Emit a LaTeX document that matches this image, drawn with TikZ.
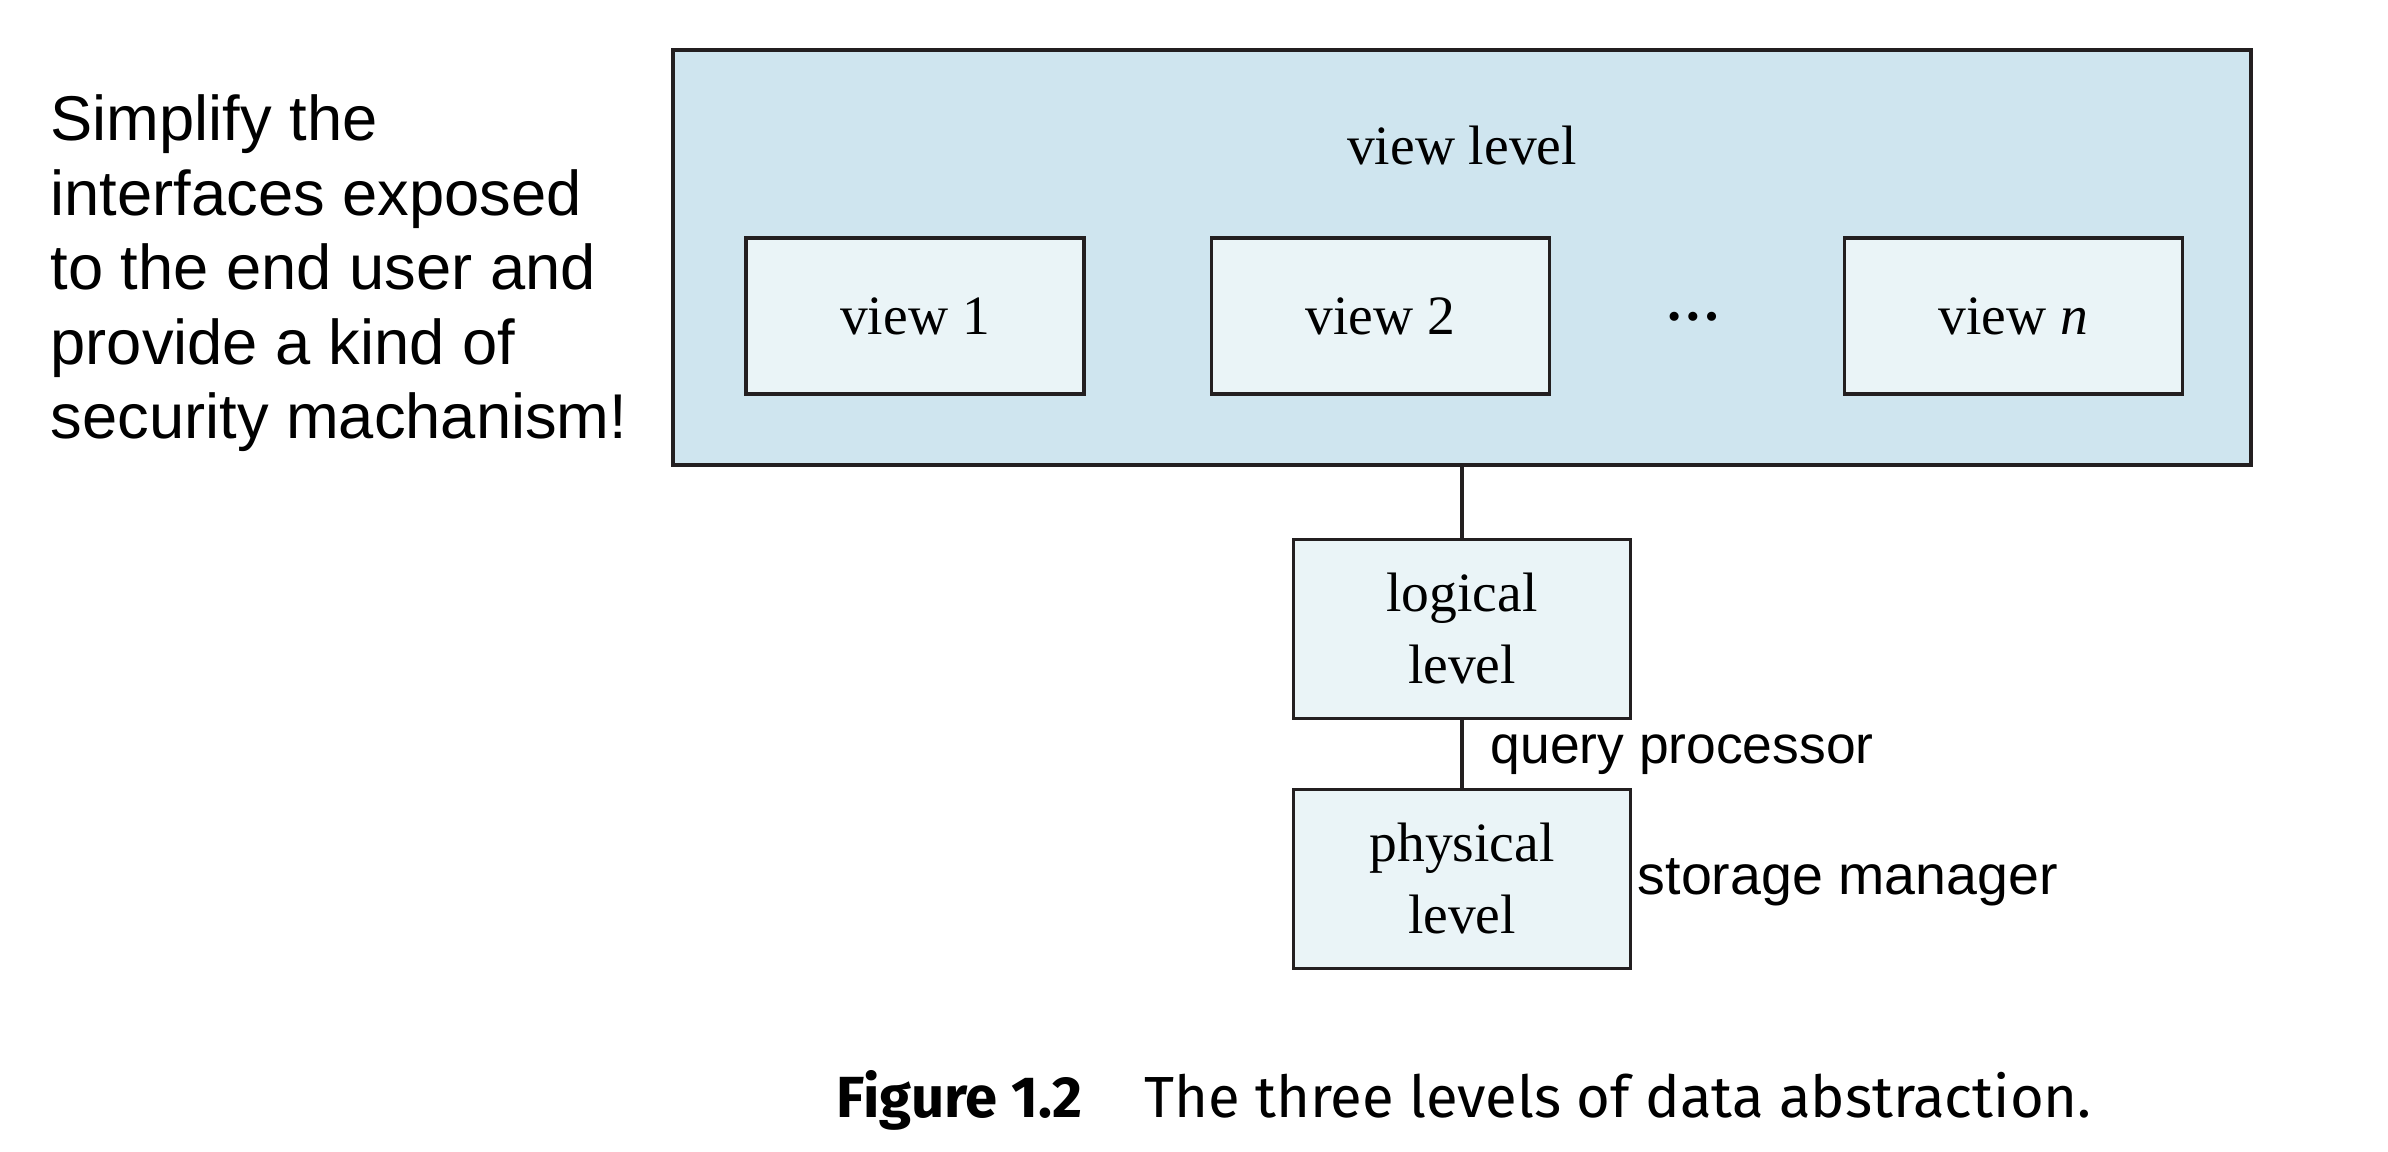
\documentclass[tikz,border=0pt]{standalone}
\usepackage{fontspec}
\setmainfont{Liberation Serif}
\newfontfamily\notefont{Liberation Sans}
\newfontfamily\capfont{Fira Sans}
\usepackage{xcolor}
\usepackage{tikz}
\usetikzlibrary{positioning, calc}
\definecolor{outerblue}{HTML}{CFE5EF}
\definecolor{innerblue}{HTML}{EAF4F7}
\definecolor{edge}{HTML}{231F20}

\begin{document}
\begin{tikzpicture}[
    levelbox/.style={rectangle, draw=edge, line width=0.9pt, fill=innerblue,
                minimum width=3.37cm, minimum height=1.79cm, align=center,
                font=\fontsize{15.8pt}{20.4pt}\selectfont},
    viewbox/.style={levelbox, minimum width=3.38cm, minimum height=1.56cm},
    note/.style={font=\notefont\fontsize{15.5pt}{18pt}\selectfont, inner sep=0pt},
    link/.style={line width=0.9pt, draw=edge}
]
\useasboundingbox (0,0) rectangle (23.88,-11.51);

\node[rectangle, draw=edge, line width=0.9pt, fill=outerblue, minimum width=15.78cm,
      minimum height=4.15cm] (viewlevel) at (14.62,-2.575) {};
\node[font=\fontsize{15.8pt}{20.4pt}\selectfont] (viewtitle) at (14.62,-1.45) {view level};

\node[viewbox] (view1) at (9.15,-3.16) {view 1};
\node[viewbox, right=1.24cm of view1] (view2) {view 2};
\node[viewbox, right=2.92cm of view2] (viewn) {view \textit{n}};
\node[font=\bfseries\fontsize{15.8pt}{20.4pt}\selectfont, inner sep=0pt] (viewdots)
    at ($(view2.east)!0.5!(viewn.west) + (-0.04,-0.01)$) {…};

\node[levelbox, below=0.71cm of viewlevel] (logical) {logical\\level};
\node[levelbox, below=0.68cm of logical] (physical) {physical\\level};

\draw[link] (viewlevel) -- (logical);
\draw[link] (logical) -- node[note, right, xshift=0.27cm, yshift=-0.01cm, font=\notefont\fontsize{15.2pt}{18pt}\selectfont] (qproc) {query processor} (physical);
\node[note, right=0.05cm of physical, yshift=-0.03cm, font=\notefont\fontsize{15.8pt}{18pt}\selectfont] (storage) {storage manager};

\node[anchor=north west, align=left, inner sep=0pt,
      font=\notefont\fontsize{18pt}{21.2pt}\selectfont] (remark) at (0.50,-0.94)
    {Simplify the\\interfaces exposed\\to the end user and\\provide a kind of\\security machanism!};

\node[anchor=west, inner sep=0pt, font=\capfont\fontsize{16.5pt}{18pt}\selectfont] (caption) at (8.36,-11.0)
    {\textbf{Figure 1.2}\hspace{0.62cm}The three levels of data abstraction.};

\end{tikzpicture}
\end{document}
